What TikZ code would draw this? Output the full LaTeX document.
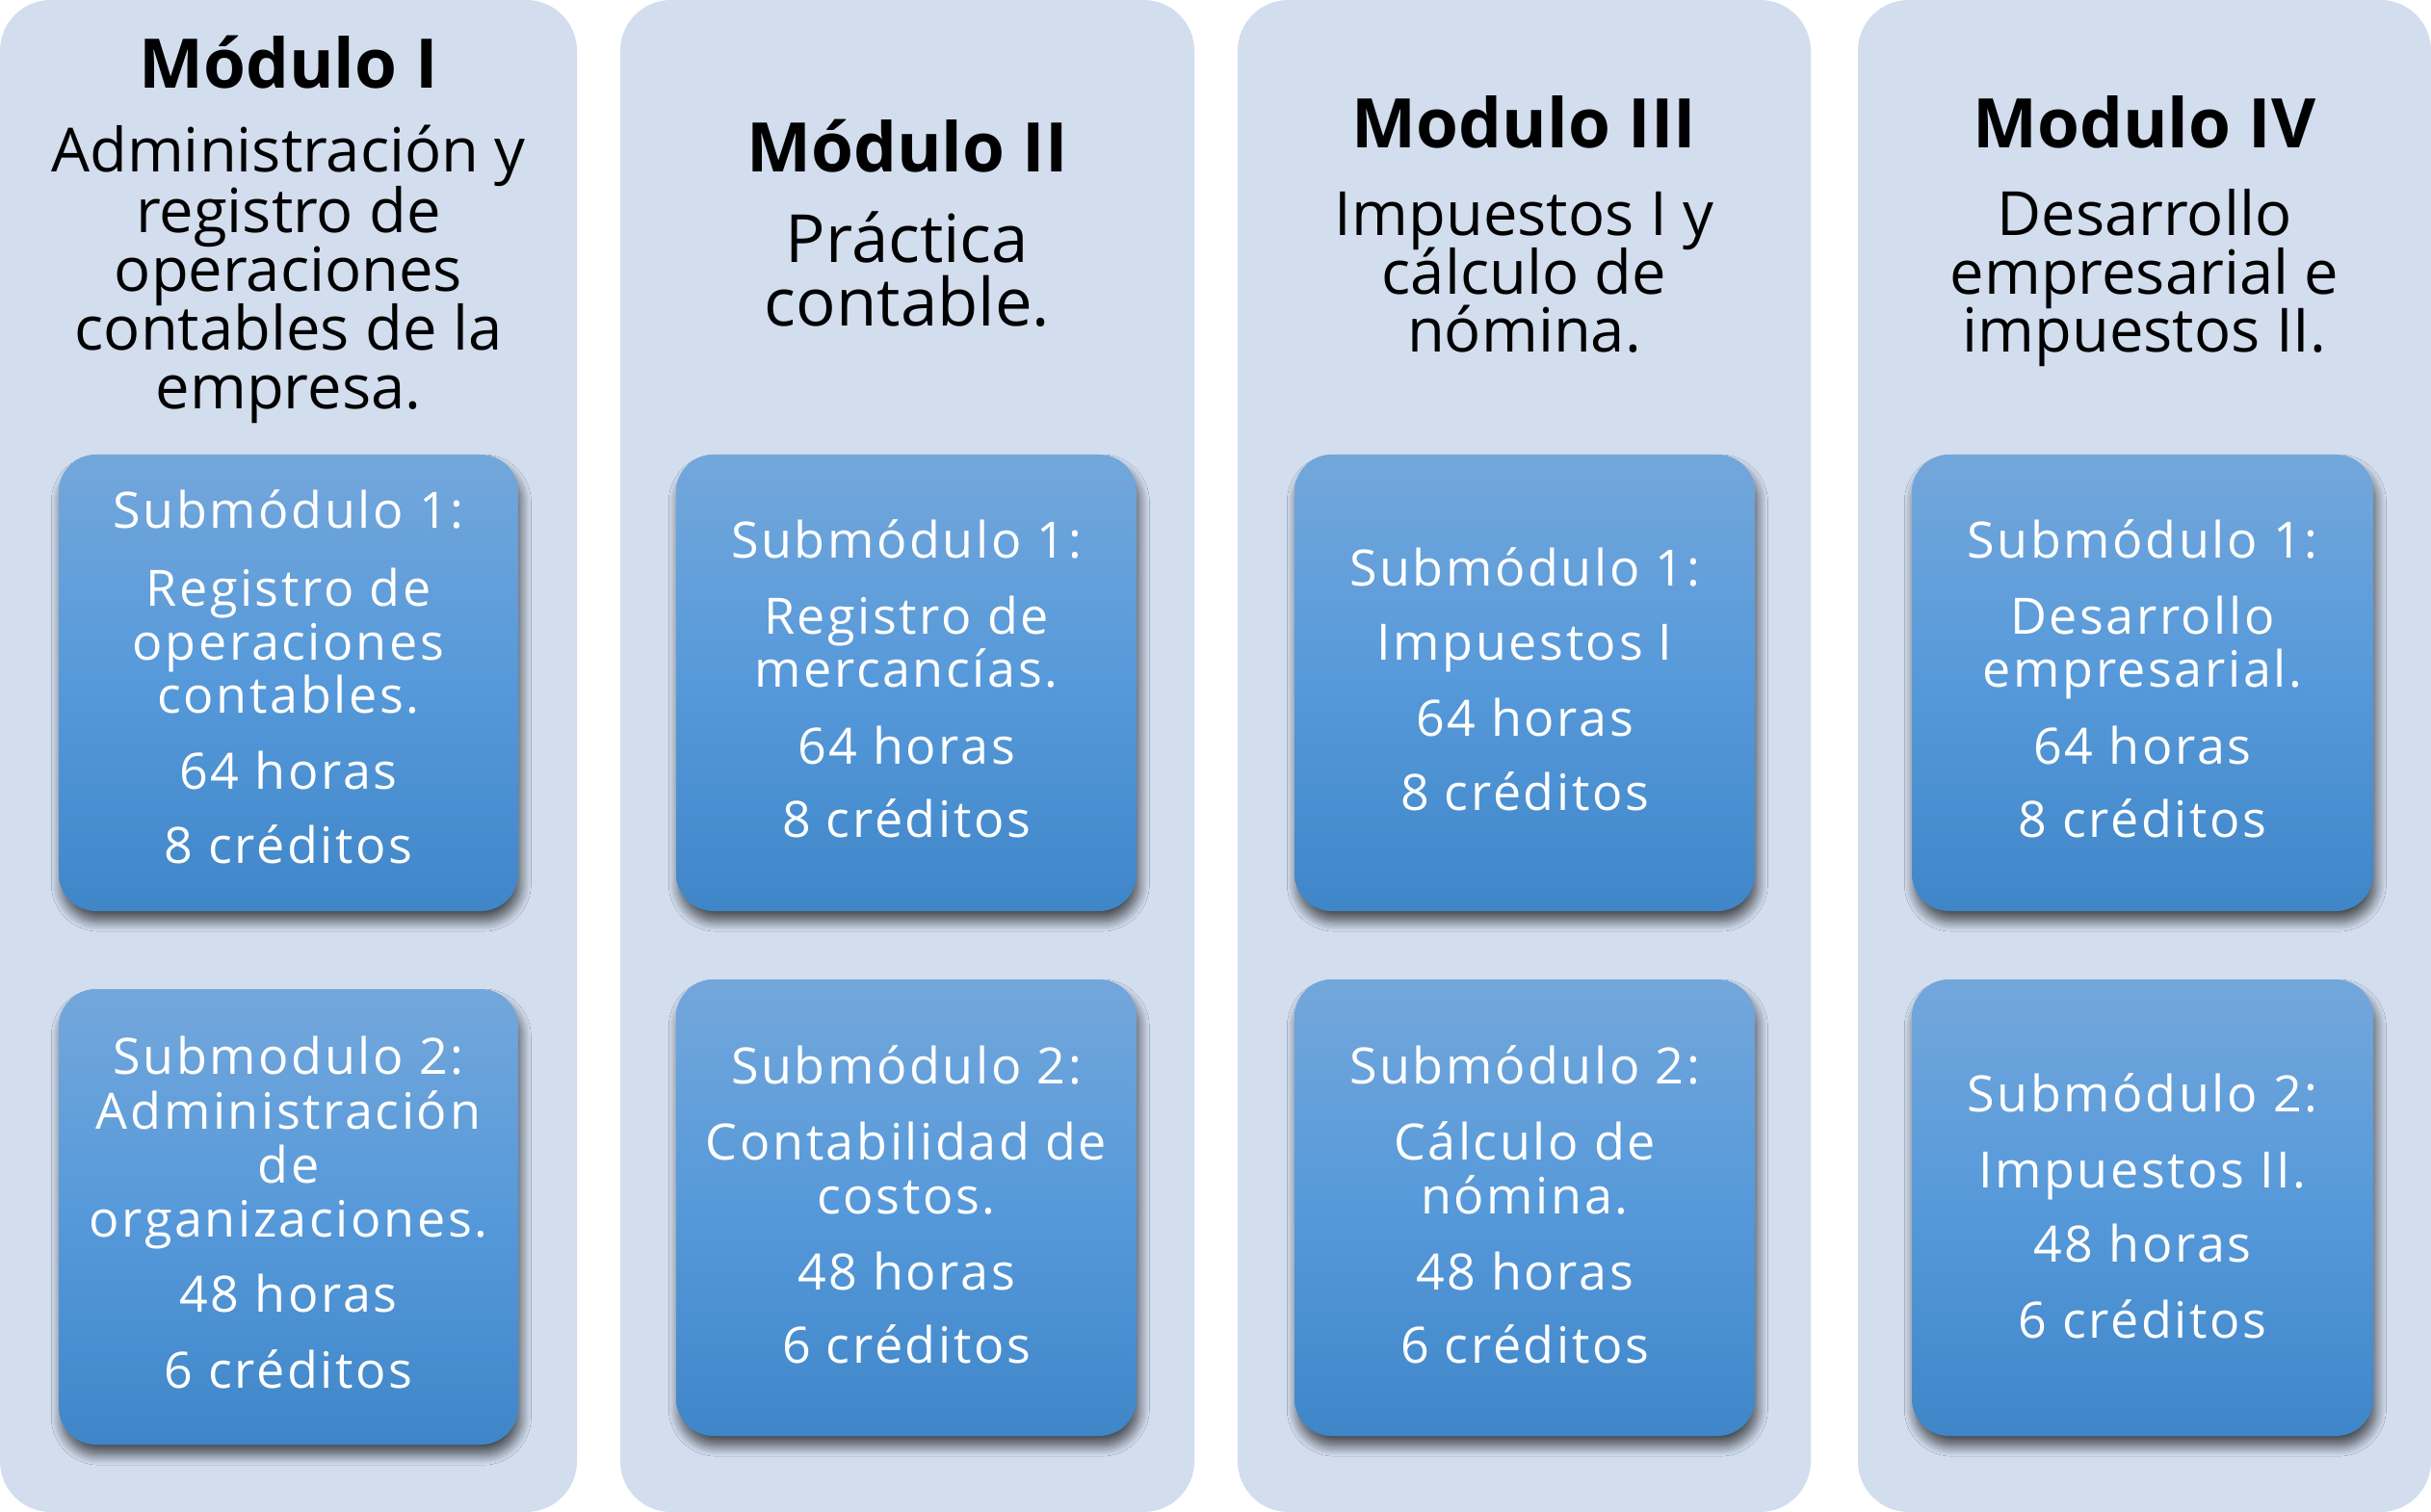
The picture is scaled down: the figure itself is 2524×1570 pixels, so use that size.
\documentclass[tikz,border=0pt]{standalone}
\usepackage{fontspec}
\setmainfont{Open Sans}
\newfontfamily\boxfont{Open Sans}[LetterSpace=5]
\usetikzlibrary{shadows.blur}
\definecolor{colbg}{HTML}{D2DDEE}
\definecolor{boxtop}{HTML}{73A7DB}
\definecolor{boxmid}{HTML}{5699DA}
\definecolor{boxbot}{HTML}{3F86C8}
\begin{document}
\begin{tikzpicture}[x=0.01cm,y=-0.01cm,
  colbox/.style={fill=colbg, rounded corners=15pt},
  subbox/.style={rounded corners=11pt, top color=boxtop, bottom color=boxbot, middle color=boxmid,
    blur shadow={shadow xshift=0.8pt, shadow yshift=-3pt, shadow blur radius=3pt, shadow opacity=65, shadow blur steps=12}},
  ttl/.style={font=\fontsize{20.2}{23}\selectfont\bfseries, inner sep=0pt, text height=13.8pt, text depth=0.4pt},
  subA/.style={font=\fontsize{18}{21}\selectfont, inner sep=0pt, text height=12.2pt, text depth=0.4pt},
  subB/.style={font=\fontsize{19.6}{22}\selectfont, inner sep=0pt, text height=13.3pt, text depth=0.4pt},
  btx/.style={font=\fontsize{14.8}{16}\selectfont\boxfont, text=white, inner sep=0pt, text height=10.1pt, text depth=0.3pt}]
\fill[white] (0,0) rectangle (2524,1570);
\useasboundingbox (0,0) rectangle (2524,1570);
% columns
\fill[colbox] (0,0) rectangle (599,1570);
\fill[colbox] (644,0) rectangle (1240,1570);
\fill[colbox] (1285,0) rectangle (1880,1570);
\fill[colbox] (1929,0) rectangle (2524,1570);
% sub boxes
\path[subbox] (61,472) rectangle (538,946);
\path[subbox] (61,1027) rectangle (538,1500);
\path[subbox] (702,472) rectangle (1180,946);
\path[subbox] (702,1017) rectangle (1180,1491);
\path[subbox] (1344,472) rectangle (1822,946);
\path[subbox] (1344,1017) rectangle (1822,1491);
\path[subbox] (1985,472) rectangle (2464,946);
\path[subbox] (1985,1017) rectangle (2464,1491);
% headers
\node[ttl] (m1t) at (299.5,68) {Módulo I};
\node[subA] (m1a) at (299.5,158) {Administración y};
\node[subA] (m1b) at (299.5,221) {registro de};
\node[subA] (m1c) at (299.5,282) {operaciones};
\node[subA] (m1d) at (299.5,343) {contables de la};
\node[subA] (m1e) at (299.5,404) {empresa.};
\node[ttl] (m2t) at (942,155) {Módulo II};
\node[subB] (m2a) at (942,250) {Práctica};
\node[subB] (m2b) at (942,316) {contable.};
\node[ttl] (m3t) at (1582.5,130) {Modulo III};
\node[subA] (m3a) at (1582.5,224) {Impuestos I y};
\node[subA] (m3b) at (1582.5,285) {cálculo de};
\node[subA] (m3c) at (1582.5,345) {nómina.};
\node[ttl] (m4t) at (2226.5,130) {Modulo IV};
\node[subA] (m4a) at (2226.5,224) {Desarrollo};
\node[subA] (m4b) at (2226.5,285) {empresarial e};
\node[subA] (m4c) at (2226.5,345) {impuestos II.};
% box texts
\foreach \yy/\tx [count=\i] in {531/Submódulo 1:, 612/Registro de, 668/operaciones, 723/contables., 802/64 horas, 879/8 créditos}
  \node[btx] (b11-\i) at (299.5,\yy) {\tx};
\foreach \yy/\tx [count=\i] in {1098/Submodulo 2:, 1155/Administración, 1211/de, 1267/organizaciones., 1345/48 horas, 1424/6 créditos}
  \node[btx] (b12-\i) at (299.5,\yy) {\tx};
\foreach \yy/\tx [count=\i] in {562/Submódulo 1:, 641/Registro de, 696/mercancías., 776/64 horas, 852/8 créditos}
  \node[btx] (b21-\i) at (941,\yy) {\tx};
\foreach \yy/\tx [count=\i] in {1108/Submódulo 2:, 1187/Contabilidad de, 1243/costos., 1322/48 horas, 1398/6 créditos}
  \node[btx] (b22-\i) at (941,\yy) {\tx};
\foreach \yy/\tx [count=\i] in {591/Submódulo 1:, 668/Impuestos I, 747/64 horas, 824/8 créditos}
  \node[btx] (b31-\i) at (1583,\yy) {\tx};
\foreach \yy/\tx [count=\i] in {1108/Submódulo 2:, 1187/Cálculo de, 1243/nómina., 1322/48 horas, 1398/6 créditos}
  \node[btx] (b32-\i) at (1583,\yy) {\tx};
\foreach \yy/\tx [count=\i] in {562/Submódulo 1:, 641/Desarrollo, 696/empresarial., 776/64 horas, 852/8 créditos}
  \node[btx] (b41-\i) at (2224.5,\yy) {\tx};
\foreach \yy/\tx [count=\i] in {1137/Submódulo 2:, 1216/Impuestos II., 1293/48 horas, 1372/6 créditos}
  \node[btx] (b42-\i) at (2224.5,\yy) {\tx};
\end{tikzpicture}
\end{document}
